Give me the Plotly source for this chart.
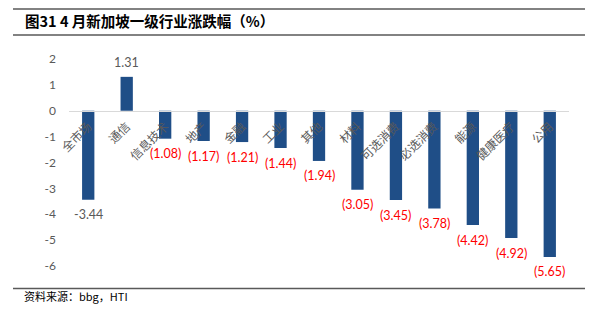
import plotly.graph_objects as go

categories = ["全市场", "通信", "信息技术", "地产", "金融", "工业", "其他",
              "材料", "可选消费", "必选消费", "能源", "健康医疗", "公用"]
values = [-3.44, 1.31, -1.08, -1.17, -1.21, -1.44, -1.94,
          -3.05, -3.45, -3.78, -4.42, -4.92, -5.65]
y_ticks = [2, 1, 0, -1, -2, -3, -4, -5, -6]

BAR = "#1F4E87"
GRAY = "#595959"
RED = "#FF0000"
CJK = "Noto Sans CJK SC"
NUM = "Lato, Liberation Sans, sans-serif"

fig = go.Figure()
fig.add_trace(go.Bar(x=categories, y=values, marker=dict(color=BAR, line=dict(width=0)),
                     width=0.32, hoverinfo="skip"))

annotations = []
for i, (c, v) in enumerate(zip(categories, values)):
    if v > 0:
        txt, col, shift = f"{v:.2f}", GRAY, 14
    elif i == 0:
        txt, col, shift = f"{v:.2f}", GRAY, -15
    else:
        txt, col, shift = f"({abs(v):.2f})", RED, -15
    annotations.append(dict(x=c, y=v, xref="x", yref="y", text=txt, showarrow=False,
                            yshift=shift, yanchor="middle", xanchor="center",
                            font=dict(family=NUM, size=12.5, color=col)))

annotations.append(dict(x=23, y=20, xref="paper", yref="paper", text="<b>图31 4 月新加坡一级行业涨跌幅（%）</b>",
                        showarrow=False, xanchor="left", yanchor="middle",
                        font=dict(family=CJK, size=14.5, color="#000000")))
annotations.append(dict(x=22, y=297, xref="paper", yref="paper", text="资料来源：bbg，HTI",
                        showarrow=False, xanchor="left", yanchor="middle",
                        font=dict(family=CJK, size=11, color="#000000")))

# convert pixel positions for paper annotations
W, H = 601, 329
L, R, T, B = 69, 32, 59, 62.5
pw, ph = W - L - R, H - T - B
for a in annotations:
    if a["xref"] == "paper":
        a["x"] = (a["x"] - L) / pw
        a["y"] = (H - B - a["y"]) / ph

shapes = []
for yy in [9, 35, 289]:
    shapes.append(dict(type="line", xref="paper", yref="paper",
                       x0=(13 - L) / pw, x1=(585 - L) / pw,
                       y0=(H - B - yy) / ph, y1=(H - B - yy) / ph,
                       line=dict(color=GRAY, width=1.5)))

fig.update_layout(
    width=W, height=H,
    margin=dict(l=L, r=R, t=T, b=B),
    paper_bgcolor="white", plot_bgcolor="white",
    showlegend=False,
    bargap=0.68,
    annotations=annotations,
    shapes=shapes,
    xaxis=dict(anchor="free", position=0.75, showline=True, linecolor="#D9D9D9", linewidth=1,
               tickangle=-45, tickfont=dict(family=CJK, size=12, color=GRAY),
               ticks="", showgrid=False, zeroline=False, ticklabelstandoff=3),
    yaxis=dict(range=[-6, 2], tickvals=y_ticks, ticktext=[str(t) for t in y_ticks],
               tickfont=dict(family=NUM, size=12, color=GRAY), showgrid=False,
               zeroline=False, showline=False, ticks="", ticklabelstandoff=12),
)

fig.write_html("out.html")
